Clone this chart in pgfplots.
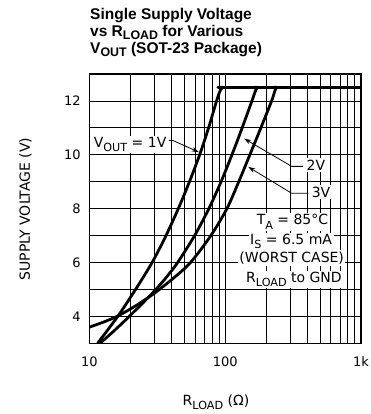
\documentclass[border=0pt]{standalone}
\usepackage{fontspec}
\setmainfont{DejaVu Sans}
\newfontfamily\titlefont{Liberation Sans}
\usepackage{graphicx}
\usepackage{pgfplots}
\pgfplotsset{compat=1.18}
\usetikzlibrary{arrows.meta}
\newcommand\sub[1]{\raisebox{-0.3em}{\scalebox{0.8}{#1}}}
\newcommand\tsub[1]{\raisebox{-0.17em}{\scalebox{0.8}{#1}}}
\pgfplotstableread{
R V
11.5 3.0
16.2 4.0
21.9 5.0
29.0 6.0
36.7 7.0
45.2 8.0
54.6 9.0
64.9 10
75.5 11
86.5 12
92.3 12.4
96.6 12.5
104 12.5
1000 12.5
}\one
\pgfplotstableread{
R V
12 3.0
15.5 3.5
19.7 4.0
24.8 4.5
30.9 5.0
37.6 5.5
44.7 6.0
59.6 7.0
75.9 8.0
93.3 9.0
112.2 10
133.4 11
157.4 12
167.9 12.4
173.8 12.5
182 12.5
1000 12.5
}\two
\pgfplotstableread{
R V
10 3.6
12.9 3.8
16.0 4.0
19.7 4.25
23.7 4.5
30.9 4.9
41.2 5.4
55.6 6.0
78.5 7.0
103 8.0
125.9 9.0
152 10
183.2 11
219.8 12
233.3 12.4
241 12.5
252 12.5
1000 12.5
}\three
\begin{document}
\begin{tikzpicture}
\begin{axis}[
 at={(0pt,0pt)}, anchor=south west, scale only axis,
 width=271.7pt, height=269.3pt,
 xmode=log, xmin=10, xmax=1000, ymin=3, ymax=13,
 xtick={10,100,1000}, xticklabels={10,100,1k},
 minor xtick={20,30,40,50,60,70,80,90,200,300,400,500,600,700,800,900},
 ytick={4,6,8,10,12}, minor ytick={5,7,9,11},
 grid=both,
 major grid style={black, line width=0.8pt},
 minor grid style={black, line width=0.8pt},
 major tick length=0pt, minor tick length=0pt,
 axis line style={line width=1.2pt},
 tick label style={font=\fontsize{13}{15}\selectfont},
 /pgf/number format/assume math mode=true,
 xticklabel style={yshift=-10pt},
 yticklabel style={xshift=-5pt},
 curve/.style={black, line width=2.8pt, line join=round, mark=none, smooth, tension=0.5},
]
\addplot[curve] table[x=R,y=V] {\one};
\addplot[curve] table[x=R,y=V] {\two};
\addplot[curve] table[x=R,y=V] {\three};
\begin{scope}[font=\fontsize{14}{16}\selectfont]
\draw[line width=0.8pt, -{Stealth[length=7pt,width=4.5pt]}] (axis cs:38.5,10.53) -- (axis cs:41.3,10.53) -- (axis cs:64,10.1);
\node[anchor=base east, fill=white, inner sep=1.5pt] at (axis cs:38,10.27) {V\sub{OUT} = 1V};
\draw[line width=0.8pt, -{Stealth[length=7pt,width=4.5pt]}] (axis cs:375,9.57) -- (axis cs:309,9.57) -- (axis cs:138,10.6);
\node[anchor=base west, fill=white, inner sep=1.5pt] at (axis cs:387,9.43) {2V};
\draw[line width=0.8pt, -{Stealth[length=7pt,width=4.5pt]}] (axis cs:410,8.57) -- (axis cs:309,8.57) -- (axis cs:148,9.55);
\node[anchor=base west, fill=white, inner sep=1.5pt] at (axis cs:422,8.42) {3V};
\node[anchor=base, fill=white, inner sep=1.5pt] at (axis cs:313,7.40) {T\sub{A} = 85°C};
\node[anchor=base, fill=white, inner sep=1.5pt] at (axis cs:306,6.67) {I\sub{S} = 6.5 mA};
\node[anchor=base, fill=white, inner sep=1.5pt] at (axis cs:309,6.00) {(WORST CASE)};
\node[anchor=base, fill=white, inner sep=1.5pt] at (axis cs:321,5.26) {R\sub{LOAD} to GND};
\end{scope}
\end{axis}
\begin{scope}[font=\titlefont\bfseries\fontsize{15.5}{17}\selectfont]
\node[anchor=base west, inner sep=0pt] at (0.7pt,323.3pt) {Single Supply Voltage};
\node[anchor=base west, inner sep=0pt] at (0.7pt,306.6pt) {vs R\tsub{LOAD} for Various};
\node[anchor=base west, inner sep=0pt] at (0.7pt,289.3pt) {V\tsub{OUT} (SOT-23 Package)};
\end{scope}
\node[rotate=90, anchor=base, font=\fontsize{14}{16}\selectfont] at (-59.3pt,134.3pt) {SUPPLY VOLTAGE (V)};
\node[anchor=base, font=\fontsize{14}{16}\selectfont] at (126.7pt,-61.7pt) {R\sub{LOAD} (Ω)};
\pgfresetboundingbox
\useasboundingbox (-89.3pt,-70.7pt) rectangle (280.7pt,343.3pt);
\end{tikzpicture}
\end{document}
